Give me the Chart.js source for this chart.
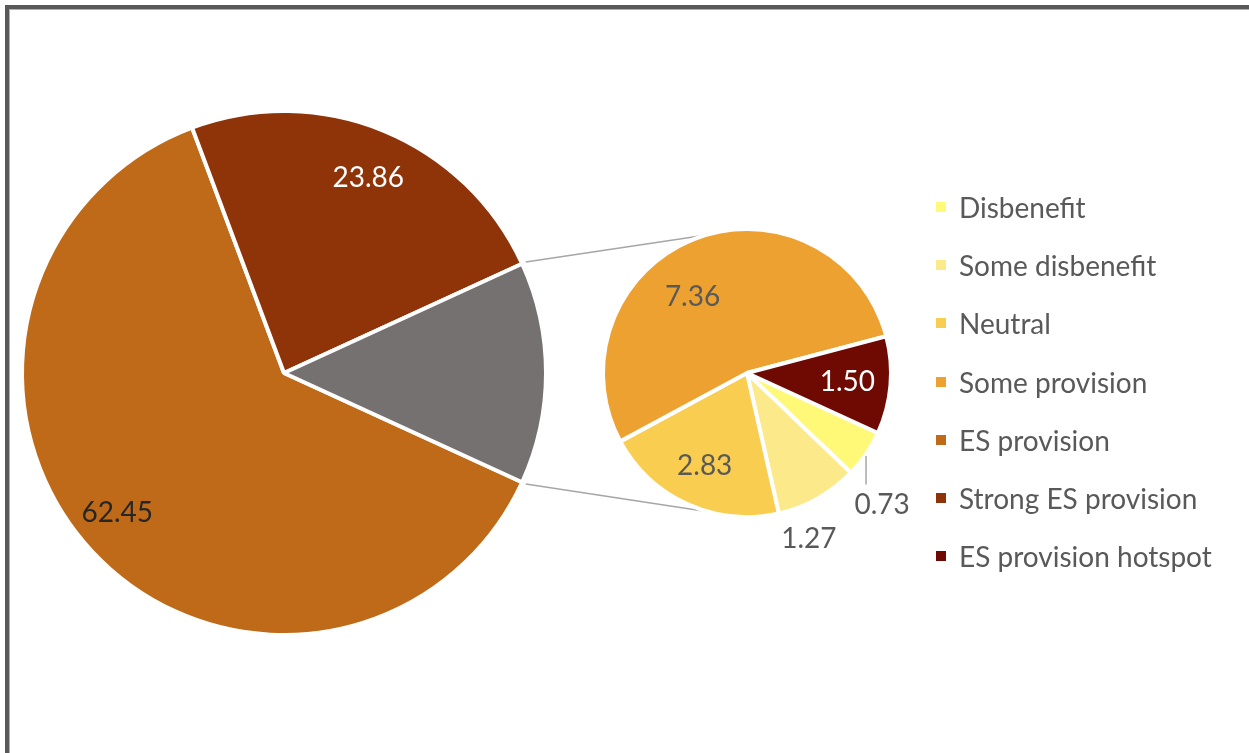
<!DOCTYPE html>
<html>
<head>
<meta charset="utf-8">
<script src="https://cdn.jsdelivr.net/npm/chart.js@4/dist/chart.umd.min.js"></script>
<style>
    html, body { margin: 0; padding: 0; background: #fff; overflow: hidden; }
    #wrap { position: relative; width: 1249px; height: 753px; }
    #frame { position: absolute; left: 5px; top: 5px; width: 1260px; height: 760px;
        border-left: 4px solid #595959; border-top: 4px solid #595959; }
    #frame2 { position: absolute; left: 9px; top: 9px; width: 1260px; height: 760px;
        border-left: 1px solid #b0b0b0; border-top: 1px solid #b0b0b0; }
    canvas { position: absolute; left: 0; top: 0; }
    #legend { position: absolute; left: 936px; top: 190px; font-family: Lato, "Open Sans", sans-serif;
        font-size: 28px; color: #595959; }
    .item { position: absolute; left: 0; height: 34px; line-height: 34px; white-space: nowrap; }
    .box { position: absolute; left: 0; top: 12px; width: 10px; height: 10px; }
    .txt { position: absolute; left: 23px; top: 0; }
</style>
</head>
<body>
<div id="wrap">
    <div id="frame"></div>
    <div id="frame2"></div>
    <canvas id="mainPie" width="1249" height="753"></canvas>
    <canvas id="subPie" width="1249" height="753"></canvas>
    <div id="legend"></div>
</div>
<script>
// main pie
const mainLabels = ["ES provision", "Strong ES provision"];
const mainValues = [62.45, 23.86];
const mainColors = ["#BF6A19", "#8F3309"];
const otherColor = "#767171";

// second pie (split off from "other")
const subLabels = ["Disbenefit", "Some disbenefit", "Neutral", "Some provision", "ES provision hotspot"];
const subValues = [0.73, 1.27, 2.83, 7.36, 1.50];
const subColors = ["#FFF977", "#FCE98A", "#F8CD50", "#EDA131", "#6E0A02"];

// legend order as in the original
const legendLabels = ["Disbenefit", "Some disbenefit", "Neutral", "Some provision",
    "ES provision", "Strong ES provision", "ES provision hotspot"];
const legendColors = ["#FFF977", "#FCE98A", "#F8CD50", "#EDA131", "#BF6A19", "#8F3309", "#6E0A02"];

const otherValue = subValues.reduce((a, b) => a + b, 0);
const total = mainValues.reduce((a, b) => a + b, 0) + otherValue;
const startRot = 90 + (otherValue / total) * 180;

const FONT = 'Lato, "Open Sans", sans-serif';

// label placement: [radius fraction, angle shift in deg, color, leader line]
const mainLabelPos = [[0.83, 3, "#262626"], [0.81, 1, "#ffffff"], null];
const subLabelPos = [[1.31, 10, "#595959", true], [1.23, 9, "#595959"], [0.71, 0, "#595959"],
    [0.65, -14, "#595959"], [0.70, 0, "#ffffff"]];

function labelPlugin(positions) {
    return {
        id: "valueLabels",
        afterDatasetsDraw(chart) {
            const ctx = chart.ctx;
            const meta = chart.getDatasetMeta(0);
            const values = chart.data.datasets[0].data;
            ctx.save();
            ctx.font = "28px " + FONT;
            ctx.textAlign = "center";
            ctx.textBaseline = "middle";
            meta.data.forEach((arc, i) => {
                const p = positions[i];
                if (!p) return;
                const mid = (arc.startAngle + arc.endAngle) / 2;
                const a = mid + p[1] * Math.PI / 180;
                const r = arc.outerRadius * p[0];
                const x = arc.x + Math.cos(a) * r;
                const y = arc.y + Math.sin(a) * r;
                if (p[3]) {
                    // leader line for small outside label
                    const ex = arc.x + Math.cos(mid) * arc.outerRadius;
                    const ey = arc.y + Math.sin(mid) * arc.outerRadius;
                    ctx.strokeStyle = "#a6a6a6";
                    ctx.lineWidth = 1.5;
                    ctx.beginPath();
                    ctx.moveTo(ex, ey + 2);
                    ctx.lineTo(ex, y - 20);
                    ctx.stroke();
                }
                ctx.fillStyle = p[2];
                ctx.fillText(values[i].toFixed(2), x, y);
            });
            ctx.restore();
        }
    };
}

const mainChart = new Chart(document.getElementById("mainPie"), {
    type: "pie",
    data: {
        labels: mainLabels.concat(["Other"]),
        datasets: [{
            data: mainValues.concat([otherValue]),
            backgroundColor: mainColors.concat([otherColor]),
            borderColor: "#ffffff",
            borderWidth: 4,
        }],
    },
    options: {
        responsive: false,
        animation: false,
        rotation: startRot,
        layout: { padding: { left: 20, top: 109, right: 701, bottom: 116 } },
        plugins: { legend: { display: false }, tooltip: { enabled: false } },
    },
    plugins: [labelPlugin(mainLabelPos)],
});

// connector lines from the grey slice corners to the second pie
const connectorPlugin = {
    id: "connectors",
    beforeDatasetsDraw(chart) {
        const grey = mainChart.getDatasetMeta(0).data[2];
        const sub = chart.getDatasetMeta(0).data[0];
        const ctx = chart.ctx;
        const r0 = grey.outerRadius + 4;
        const starts = [grey.startAngle, grey.endAngle];
        const ends = [-107 * Math.PI / 180, 105 * Math.PI / 180];
        ctx.save();
        ctx.strokeStyle = "#a6a6a6";
        ctx.lineWidth = 1.5;
        for (let k = 0; k < 2; k++) {
            ctx.beginPath();
            ctx.moveTo(grey.x + Math.cos(starts[k]) * r0, grey.y + Math.sin(starts[k]) * r0);
            ctx.lineTo(sub.x + Math.cos(ends[k]) * sub.outerRadius, sub.y + Math.sin(ends[k]) * sub.outerRadius);
            ctx.stroke();
        }
        ctx.restore();
    },
};

new Chart(document.getElementById("subPie"), {
    type: "pie",
    data: {
        labels: subLabels,
        datasets: [{
            data: subValues,
            backgroundColor: subColors,
            borderColor: "#ffffff",
            borderWidth: 4,
        }],
    },
    options: {
        responsive: false,
        animation: false,
        rotation: startRot,
        layout: { padding: { left: 601, top: 227, right: 356, bottom: 234 } },
        plugins: { legend: { display: false }, tooltip: { enabled: false } },
    },
    plugins: [connectorPlugin, labelPlugin(subLabelPos)],
});

// legend
const legend = document.getElementById("legend");
legendLabels.forEach((name, i) => {
    const item = document.createElement("div");
    item.className = "item";
    item.style.top = (i * 58.2) + "px";
    item.innerHTML = '<span class="box" style="background:' + legendColors[i] + '"></span>' +
        '<span class="txt">' + name + '</span>';
    legend.appendChild(item);
});
</script>
</body>
</html>
